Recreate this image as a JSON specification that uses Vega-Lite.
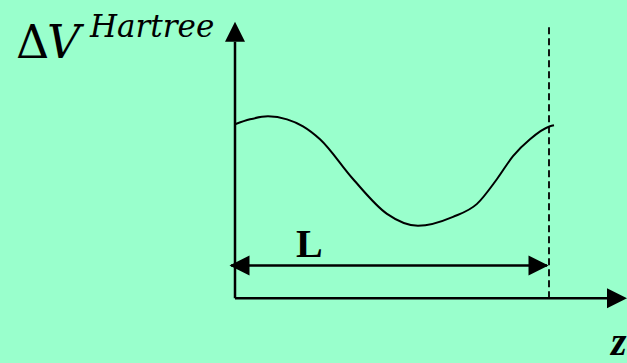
{
  "$schema": "https://vega.github.io/schema/vega-lite/v6.json",
  "width": 627,
  "height": 363,
  "autosize": {"type": "fit", "contains": "padding"},
  "padding": 0,
  "background": "#99FFCC",
  "config": {"view": {"stroke": null}},
  "layer": [
    {
      "data": {"values": [
        {"z": 0, "v": 0, "z2": 0, "v2": 258},
        {"z": 0, "v": 0, "z2": 373, "v2": 0},
        {"z": -4, "v": 33, "z2": 312, "v2": 33}
      ]},
      "mark": {"type": "rule", "color": "black", "strokeWidth": 2.5},
      "encoding": {
        "x": {"field": "z", "type": "quantitative", "scale": {"domain": [-235, 392], "nice": false, "zero": false}, "axis": null},
        "x2": {"field": "z2"},
        "y": {"field": "v", "type": "quantitative", "scale": {"domain": [-63, 300], "nice": false, "zero": false}, "axis": null},
        "y2": {"field": "v2"}
      }
    },
    {
      "data": {"values": [{"z": 314, "v": 0, "v2": 275}]},
      "mark": {"type": "rule", "color": "black", "strokeWidth": 1.8, "strokeDash": [7, 4]},
      "encoding": {
        "x": {"field": "z", "type": "quantitative", "scale": {"domain": [-235, 392], "nice": false, "zero": false}, "axis": null},
        "y": {"field": "v", "type": "quantitative", "scale": {"domain": [-63, 300], "nice": false, "zero": false}, "axis": null},
        "y2": {"field": "v2"}
      }
    },
    {
      "data": {"values": [
        {"z": 0, "v": 175}, {"z": 15, "v": 180}, {"z": 33, "v": 183}, {"z": 52, "v": 180},
        {"z": 68, "v": 173}, {"z": 85, "v": 160}, {"z": 118, "v": 120}, {"z": 152, "v": 85},
        {"z": 183, "v": 73}, {"z": 218, "v": 82}, {"z": 242, "v": 95}, {"z": 262, "v": 120},
        {"z": 278, "v": 143}, {"z": 295, "v": 160}, {"z": 315, "v": 173}, {"z": 319, "v": 174}
      ]},
      "mark": {"type": "line", "color": "black", "strokeWidth": 2, "interpolate": "monotone"},
      "encoding": {
        "x": {"field": "z", "type": "quantitative", "scale": {"domain": [-235, 392], "nice": false, "zero": false}, "axis": null},
        "y": {"field": "v", "type": "quantitative", "scale": {"domain": [-63, 300], "nice": false, "zero": false}, "axis": null}
      }
    },
    {
      "data": {"values": [
        {"z": 0, "v": 268, "head": "up"},
        {"z": 382, "v": 0, "head": "right"},
        {"z": 4.5, "v": 33, "head": "left"},
        {"z": 303.5, "v": 33, "head": "right"}
      ]},
      "mark": {"type": "point", "filled": true, "color": "black", "size": 400, "strokeWidth": 0, "opacity": 1},
      "encoding": {
        "x": {"field": "z", "type": "quantitative", "scale": {"domain": [-235, 392], "nice": false, "zero": false}, "axis": null},
        "y": {"field": "v", "type": "quantitative", "scale": {"domain": [-63, 300], "nice": false, "zero": false}, "axis": null},
        "shape": {"field": "head", "type": "nominal", "legend": null, "scale": {"domain": ["up", "right", "left"], "range": ["M0,-1L1,1L-1,1Z", "M1,0L-1,-1L-1,1Z", "M-1,0L1,-1L1,1Z"]}}
      }
    },
    {
      "data": {"values": [{"z": -219, "v": 242, "t": "Δ"}]},
      "mark": {"type": "text", "align": "left", "baseline": "alphabetic", "font": "DejaVu Serif", "fontSize": 46, "color": "black"},
      "encoding": {
        "x": {"field": "z", "type": "quantitative", "scale": {"domain": [-235, 392], "nice": false, "zero": false}, "axis": null},
        "y": {"field": "v", "type": "quantitative", "scale": {"domain": [-63, 300], "nice": false, "zero": false}, "axis": null},
        "text": {"field": "t"}
      }
    },
    {
      "data": {"values": [{"z": -188, "v": 242, "t": "V"}, {"z": -145, "v": 263, "t": "Hartree"}]},
      "mark": {"type": "text", "align": "left", "baseline": "alphabetic", "font": "DejaVu Serif", "fontStyle": "italic", "color": "black"},
      "encoding": {
        "x": {"field": "z", "type": "quantitative", "scale": {"domain": [-235, 392], "nice": false, "zero": false}, "axis": null},
        "y": {"field": "v", "type": "quantitative", "scale": {"domain": [-63, 300], "nice": false, "zero": false}, "axis": null},
        "text": {"field": "t"},
        "size": {"field": "t", "type": "nominal", "legend": null, "scale": {"domain": ["V", "Hartree"], "range": [46, 31]}}
      }
    },
    {
      "data": {"values": [{"z": 61, "v": 42, "t": "L"}]},
      "mark": {"type": "text", "align": "left", "baseline": "alphabetic", "font": "Liberation Serif", "fontWeight": "bold", "fontSize": 40, "color": "black"},
      "encoding": {
        "x": {"field": "z", "type": "quantitative", "scale": {"domain": [-235, 392], "nice": false, "zero": false}, "axis": null},
        "y": {"field": "v", "type": "quantitative", "scale": {"domain": [-63, 300], "nice": false, "zero": false}, "axis": null},
        "text": {"field": "t"}
      }
    },
    {
      "data": {"values": [{"z": 376, "v": -57, "t": "z"}]},
      "mark": {"type": "text", "align": "left", "baseline": "alphabetic", "font": "Liberation Serif", "fontWeight": "bold", "fontStyle": "italic", "fontSize": 40, "color": "black"},
      "encoding": {
        "x": {"field": "z", "type": "quantitative", "scale": {"domain": [-235, 392], "nice": false, "zero": false}, "axis": null},
        "y": {"field": "v", "type": "quantitative", "scale": {"domain": [-63, 300], "nice": false, "zero": false}, "axis": null},
        "text": {"field": "t"}
      }
    }
  ]
}
